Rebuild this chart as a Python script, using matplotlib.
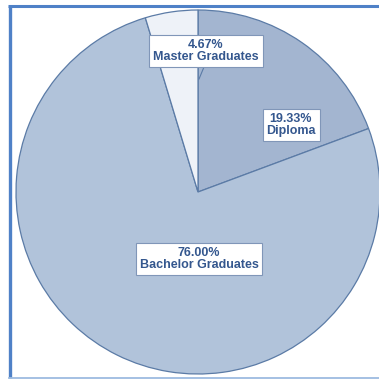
import matplotlib.pyplot as plt

# education level shares (percent)
labels = ['Diploma', 'Bachelor Graduates', 'Master Graduates']
shares = [19.33, 76.00, 4.67]
colors = ['#a3b5d0', '#b1c3da', '#eef2f8']

plt.rcParams['font.family'] = ['Liberation Sans', 'DejaVu Sans']

fig = plt.figure(figsize=(3.79, 3.79), dpi=100)
ax = fig.add_axes([0, 0, 1, 1])

wedges, _ = ax.pie(shares, colors=colors, startangle=90, counterclock=False,
                   center=(198, 187), radius=182, frame=True,
                   wedgeprops=dict(edgecolor='#5b7ba6', linewidth=0.9))
ax.set_xlim(0, 379)
ax.set_ylim(0, 379)
ax.set_aspect('equal')
ax.axis('off')

# frame around the chart
ax.plot([9.5, 9.5], [1, 373.5], color='#4f81c7', lw=2.4, solid_capstyle='butt')
ax.plot([8.3, 379], [373.5, 373.5], color='#4f81c7', lw=2.2, solid_capstyle='butt')
ax.plot([9, 379], [1.2, 1.2], color='#9dbbe0', lw=1.3)

box = dict(boxstyle='square,pad=0.3', facecolor='white', edgecolor='#8096b8', lw=0.8)
label_pos = [(291, 254), (199, 120), (206, 328)]
for lab, val, (x, y) in zip(labels, shares, label_pos):
    ax.text(x, y, f'{val:.2f}%\n{lab}', ha='center', va='center', fontsize=9.0,
            fontweight='bold', color='#34578e', linespacing=1.0, bbox=box, zorder=5)

# leader line for the small slice
ax.plot([204, 199], [312, 300], color='#5b7ba6', lw=0.8, zorder=4)

fig.savefig('out.png', dpi=100)
